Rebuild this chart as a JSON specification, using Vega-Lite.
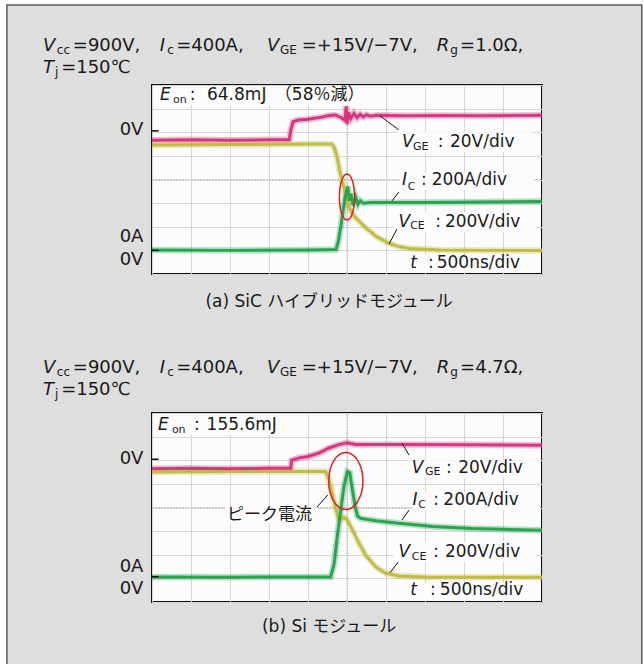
{
  "$schema": "https://vega.github.io/schema/vega-lite/v6.json",
  "autosize": {"type": "none"},
  "padding": {"left": 152, "top": 85, "right": 491, "bottom": 579},
  "background": "#dddedd",
  "spacing": 139,
  "bounds": "flush",
  "config": {
    "font": "DejaVu Sans, Noto Sans CJK JP",
    "view": {"stroke": "#111111", "strokeWidth": 2, "fill": "#fcfcfc"}
  },
  "datasets": {
    "tracesA": [
      {"series": "VGE", "x": 0, "y": 5.66}, {"series": "VGE", "x": 1, "y": 5.68}, {"series": "VGE", "x": 2, "y": 5.66}, {"series": "VGE", "x": 3, "y": 5.68}, {"series": "VGE", "x": 3.52, "y": 5.68}, {"series": "VGE", "x": 3.56, "y": 6.1}, {"series": "VGE", "x": 3.62, "y": 6.45}, {"series": "VGE", "x": 3.75, "y": 6.52}, {"series": "VGE", "x": 4.0, "y": 6.55}, {"series": "VGE", "x": 4.3, "y": 6.62}, {"series": "VGE", "x": 4.5, "y": 6.7}, {"series": "VGE", "x": 4.7, "y": 6.73}, {"series": "VGE", "x": 4.85, "y": 6.62}, {"series": "VGE", "x": 4.95, "y": 6.5}, {"series": "VGE", "x": 4.98, "y": 7.1}, {"series": "VGE", "x": 5.0, "y": 6.35}, {"series": "VGE", "x": 5.04, "y": 6.85}, {"series": "VGE", "x": 5.1, "y": 6.58}, {"series": "VGE", "x": 5.18, "y": 6.8}, {"series": "VGE", "x": 5.26, "y": 6.62}, {"series": "VGE", "x": 5.34, "y": 6.76}, {"series": "VGE", "x": 5.42, "y": 6.65}, {"series": "VGE", "x": 5.5, "y": 6.74}, {"series": "VGE", "x": 5.6, "y": 6.68}, {"series": "VGE", "x": 5.75, "y": 6.72}, {"series": "VGE", "x": 6.5, "y": 6.7}, {"series": "VGE", "x": 7.5, "y": 6.71}, {"series": "VGE", "x": 8.5, "y": 6.7}, {"series": "VGE", "x": 10, "y": 6.72},
      {"series": "VCE", "x": 0, "y": 5.46}, {"series": "VCE", "x": 2, "y": 5.48}, {"series": "VCE", "x": 4, "y": 5.5}, {"series": "VCE", "x": 4.6, "y": 5.5}, {"series": "VCE", "x": 4.66, "y": 5.4}, {"series": "VCE", "x": 4.74, "y": 5.0}, {"series": "VCE", "x": 4.82, "y": 4.3}, {"series": "VCE", "x": 4.9, "y": 3.8}, {"series": "VCE", "x": 4.98, "y": 3.25}, {"series": "VCE", "x": 5.05, "y": 2.85}, {"series": "VCE", "x": 5.12, "y": 2.6}, {"series": "VCE", "x": 5.2, "y": 2.42}, {"series": "VCE", "x": 5.33, "y": 2.2}, {"series": "VCE", "x": 5.5, "y": 1.93}, {"series": "VCE", "x": 5.76, "y": 1.58}, {"series": "VCE", "x": 6.1, "y": 1.28}, {"series": "VCE", "x": 6.36, "y": 1.15}, {"series": "VCE", "x": 6.6, "y": 1.08}, {"series": "VCE", "x": 7.4, "y": 1.02}, {"series": "VCE", "x": 8.5, "y": 1.0}, {"series": "VCE", "x": 10, "y": 1.0},
      {"series": "IC", "x": 0, "y": 1.02}, {"series": "IC", "x": 2, "y": 1.0}, {"series": "IC", "x": 4, "y": 1.02}, {"series": "IC", "x": 4.72, "y": 1.04}, {"series": "IC", "x": 4.78, "y": 1.4}, {"series": "IC", "x": 4.84, "y": 2.0}, {"series": "IC", "x": 4.9, "y": 2.7}, {"series": "IC", "x": 4.96, "y": 3.3}, {"series": "IC", "x": 5.02, "y": 3.7}, {"series": "IC", "x": 5.06, "y": 3.1}, {"series": "IC", "x": 5.1, "y": 3.4}, {"series": "IC", "x": 5.16, "y": 2.9}, {"series": "IC", "x": 5.22, "y": 3.25}, {"series": "IC", "x": 5.28, "y": 2.95}, {"series": "IC", "x": 5.34, "y": 3.1}, {"series": "IC", "x": 5.42, "y": 3.0}, {"series": "IC", "x": 5.6, "y": 3.03}, {"series": "IC", "x": 7, "y": 3.03}, {"series": "IC", "x": 8.5, "y": 3.05}, {"series": "IC", "x": 10, "y": 3.07}
    ],
    "tracesB": [
      {"series": "VGE", "x": 0, "y": 5.64}, {"series": "VGE", "x": 1, "y": 5.66}, {"series": "VGE", "x": 2, "y": 5.64}, {"series": "VGE", "x": 3, "y": 5.66}, {"series": "VGE", "x": 3.56, "y": 5.66}, {"series": "VGE", "x": 3.58, "y": 6.0}, {"series": "VGE", "x": 3.7, "y": 6.06}, {"series": "VGE", "x": 3.77, "y": 6.1}, {"series": "VGE", "x": 4.0, "y": 6.16}, {"series": "VGE", "x": 4.28, "y": 6.3}, {"series": "VGE", "x": 4.54, "y": 6.52}, {"series": "VGE", "x": 4.79, "y": 6.66}, {"series": "VGE", "x": 5.0, "y": 6.74}, {"series": "VGE", "x": 5.22, "y": 6.67}, {"series": "VGE", "x": 6.33, "y": 6.67}, {"series": "VGE", "x": 8, "y": 6.66}, {"series": "VGE", "x": 10, "y": 6.64},
      {"series": "VCE", "x": 0, "y": 5.5}, {"series": "VCE", "x": 2, "y": 5.52}, {"series": "VCE", "x": 4, "y": 5.52}, {"series": "VCE", "x": 4.45, "y": 5.52}, {"series": "VCE", "x": 4.54, "y": 5.17}, {"series": "VCE", "x": 4.62, "y": 4.6}, {"series": "VCE", "x": 4.71, "y": 3.96}, {"series": "VCE", "x": 4.78, "y": 3.54}, {"series": "VCE", "x": 4.84, "y": 3.5}, {"series": "VCE", "x": 4.92, "y": 3.58}, {"series": "VCE", "x": 5.01, "y": 3.47}, {"series": "VCE", "x": 5.14, "y": 3.04}, {"series": "VCE", "x": 5.31, "y": 2.48}, {"series": "VCE", "x": 5.48, "y": 1.98}, {"series": "VCE", "x": 5.74, "y": 1.48}, {"series": "VCE", "x": 5.99, "y": 1.22}, {"series": "VCE", "x": 6.33, "y": 1.1}, {"series": "VCE", "x": 7, "y": 1.06}, {"series": "VCE", "x": 8.5, "y": 1.05}, {"series": "VCE", "x": 10, "y": 1.05},
      {"series": "IC", "x": 0, "y": 1.06}, {"series": "IC", "x": 2, "y": 1.05}, {"series": "IC", "x": 4, "y": 1.06}, {"series": "IC", "x": 4.58, "y": 1.06}, {"series": "IC", "x": 4.67, "y": 1.62}, {"series": "IC", "x": 4.75, "y": 2.76}, {"series": "IC", "x": 4.84, "y": 3.89}, {"series": "IC", "x": 4.92, "y": 4.88}, {"series": "IC", "x": 5.01, "y": 5.52}, {"series": "IC", "x": 5.07, "y": 5.47}, {"series": "IC", "x": 5.14, "y": 4.74}, {"series": "IC", "x": 5.21, "y": 4.03}, {"series": "IC", "x": 5.27, "y": 3.64}, {"series": "IC", "x": 5.35, "y": 3.54}, {"series": "IC", "x": 5.74, "y": 3.44}, {"series": "IC", "x": 6.33, "y": 3.33}, {"series": "IC", "x": 7.2, "y": 3.2}, {"series": "IC", "x": 8.2, "y": 3.11}, {"series": "IC", "x": 10, "y": 3.04}
    ],
    "labelsA": [
      {"role": "tsym", "text": "V", "x": -2.795, "y": 9.65},
      {"role": "tsub", "text": "cc", "x": -2.44, "y": 9.47},
      {"role": "title", "text": "=900V,", "x": -2.03, "y": 9.65},
      {"role": "tsym", "text": "I", "x": 0.2, "y": 9.65},
      {"role": "tsub", "text": "c", "x": 0.39, "y": 9.47},
      {"role": "title", "text": "=400A,", "x": 0.62, "y": 9.65},
      {"role": "tsym", "text": "V", "x": 2.95, "y": 9.65},
      {"role": "tsub", "text": "GE", "x": 3.28, "y": 9.47},
      {"role": "title", "text": "=+15V/−7V,", "x": 3.84, "y": 9.65},
      {"role": "tsym", "text": "R", "x": 7.3, "y": 9.65},
      {"role": "tsub", "text": "g", "x": 7.65, "y": 9.47},
      {"role": "title", "text": "=1.0Ω,", "x": 7.9, "y": 9.65},
      {"role": "tsym", "text": "T", "x": -2.795, "y": 8.72},
      {"role": "tsub", "text": "j", "x": -2.487, "y": 8.54},
      {"role": "title", "text": "=150℃", "x": -2.33, "y": 8.72},
      {"role": "sym", "text": "E", "x": 0.205, "y": 7.58},
      {"role": "sub", "text": "on", "x": 0.54, "y": 7.37},
      {"role": "val", "text": ":", "x": 0.97, "y": 7.58},
      {"role": "val", "text": "64.8mJ", "x": 1.41, "y": 7.58},
      {"role": "val", "text": "（58％減）", "x": 3.15, "y": 7.58},
      {"role": "sym", "text": "V", "x": 6.41, "y": 5.59},
      {"role": "sub", "text": "GE", "x": 6.69, "y": 5.38},
      {"role": "val", "text": ":", "x": 7.33, "y": 5.59},
      {"role": "val", "text": "20V/div", "x": 7.64, "y": 5.59},
      {"role": "sym", "text": "I", "x": 6.41, "y": 3.98},
      {"role": "sub", "text": "C", "x": 6.56, "y": 3.68},
      {"role": "val", "text": ":", "x": 6.9, "y": 3.98},
      {"role": "val", "text": "200A/div", "x": 7.17, "y": 3.98},
      {"role": "sym", "text": "V", "x": 6.32, "y": 2.2},
      {"role": "sub", "text": "CE", "x": 6.62, "y": 2.03},
      {"role": "val", "text": ":", "x": 7.26, "y": 2.2},
      {"role": "val", "text": "200V/div", "x": 7.51, "y": 2.2},
      {"role": "sym", "text": "t", "x": 6.62, "y": 0.47},
      {"role": "val", "text": ":", "x": 7.08, "y": 0.47},
      {"role": "val", "text": "500ns/div", "x": 7.3, "y": 0.47},
      {"role": "ylab", "text": "0V", "x": -0.22, "y": 6.1},
      {"role": "ylab", "text": "0A", "x": -0.22, "y": 1.57},
      {"role": "ylab", "text": "0V", "x": -0.22, "y": 0.59},
      {"role": "cap", "text": "(a)  SiC ハイブリッドモジュール", "x": 4.54, "y": -1.19}
    ],
    "labelsB": [
      {"role": "tsym", "text": "V", "x": -2.795, "y": 9.9},
      {"role": "tsub", "text": "cc", "x": -2.44, "y": 9.72},
      {"role": "title", "text": "=900V,", "x": -2.03, "y": 9.9},
      {"role": "tsym", "text": "I", "x": 0.2, "y": 9.9},
      {"role": "tsub", "text": "c", "x": 0.39, "y": 9.72},
      {"role": "title", "text": "=400A,", "x": 0.62, "y": 9.9},
      {"role": "tsym", "text": "V", "x": 2.95, "y": 9.9},
      {"role": "tsub", "text": "GE", "x": 3.28, "y": 9.72},
      {"role": "title", "text": "=+15V/−7V,", "x": 3.84, "y": 9.9},
      {"role": "tsym", "text": "R", "x": 7.3, "y": 9.9},
      {"role": "tsub", "text": "g", "x": 7.65, "y": 9.72},
      {"role": "title", "text": "=4.7Ω,", "x": 7.9, "y": 9.9},
      {"role": "tsym", "text": "T", "x": -2.795, "y": 8.97},
      {"role": "tsub", "text": "j", "x": -2.487, "y": 8.79},
      {"role": "title", "text": "=150℃", "x": -2.33, "y": 8.97},
      {"role": "sym", "text": "E", "x": 0.154, "y": 7.49},
      {"role": "sub", "text": "on", "x": 0.51, "y": 7.28},
      {"role": "val", "text": ":", "x": 1.08, "y": 7.49},
      {"role": "val", "text": "155.6mJ", "x": 1.4, "y": 7.49},
      {"role": "sym", "text": "V", "x": 6.66, "y": 5.67},
      {"role": "sub", "text": "GE", "x": 7.0, "y": 5.5},
      {"role": "val", "text": ":", "x": 7.54, "y": 5.67},
      {"role": "val", "text": "20V/div", "x": 7.85, "y": 5.67},
      {"role": "sym", "text": "I", "x": 6.68, "y": 4.32},
      {"role": "sub", "text": "C", "x": 6.83, "y": 4.11},
      {"role": "val", "text": ":", "x": 7.21, "y": 4.32},
      {"role": "val", "text": "200A/div", "x": 7.47, "y": 4.32},
      {"role": "sym", "text": "V", "x": 6.32, "y": 2.12},
      {"role": "sub", "text": "CE", "x": 6.66, "y": 1.9},
      {"role": "val", "text": ":", "x": 7.21, "y": 2.12},
      {"role": "val", "text": "200V/div", "x": 7.51, "y": 2.12},
      {"role": "sym", "text": "t", "x": 6.62, "y": 0.51},
      {"role": "val", "text": ":", "x": 7.13, "y": 0.51},
      {"role": "val", "text": "500ns/div", "x": 7.38, "y": 0.51},
      {"role": "val", "text": "ピーク電流", "x": 1.92, "y": 3.68},
      {"role": "ylab", "text": "0V", "x": -0.22, "y": 6.05},
      {"role": "ylab", "text": "0A", "x": -0.22, "y": 1.48},
      {"role": "ylab", "text": "0V", "x": -0.22, "y": 0.55},
      {"role": "cap", "text": "(b)  Si モジュール", "x": 4.54, "y": -1.06}
    ],
    "boxesA": [
      {"x": 0.05, "x2": 5.85, "y": 7.95, "y2": 7.15},
      {"x": 6.3, "x2": 9.75, "y": 6.0, "y2": 5.16},
      {"x": 6.35, "x2": 9.8, "y": 4.27, "y2": 3.55},
      {"x": 6.2, "x2": 9.9, "y": 2.62, "y2": 1.78},
      {"x": 6.5, "x2": 9.95, "y": 0.8, "y2": 0.08}
    ],
    "boxesB": [
      {"x": 0.05, "x2": 3.6, "y": 7.95, "y2": 7.07},
      {"x": 6.56, "x2": 9.95, "y": 6.0, "y2": 5.25},
      {"x": 6.67, "x2": 9.95, "y": 4.66, "y2": 3.9},
      {"x": 6.2, "x2": 9.9, "y": 2.54, "y2": 1.69},
      {"x": 6.5, "x2": 9.95, "y": 0.8, "y2": 0.08},
      {"x": 1.87, "x2": 4.23, "y": 4.02, "y2": 3.34}
    ],
    "leadersA": [
      {"x": 5.85, "y": 6.69, "x2": 6.33, "y2": 6.1},
      {"x": 6.15, "y": 3.09, "x2": 6.33, "y2": 3.47},
      {"x": 6.08, "y": 1.27, "x2": 6.28, "y2": 1.9}
    ],
    "leadersB": [
      {"x": 6.41, "y": 6.73, "x2": 6.59, "y2": 6.22},
      {"x": 6.41, "y": 3.47, "x2": 6.59, "y2": 3.89},
      {"x": 6.1, "y": 1.23, "x2": 6.31, "y2": 1.69},
      {"x": 4.23, "y": 4.02, "x2": 4.51, "y2": 4.53}
    ],
    "ticksA": [
      {"x": 0, "y": 6.06, "x2": 0.17, "y2": 6.06},
      {"x": 0, "y": 1.0, "x2": 0.17, "y2": 1.0}
    ],
    "ticksB": [
      {"x": 0, "y": 6.04, "x2": 0.17, "y2": 6.04},
      {"x": 0, "y": 1.07, "x2": 0.17, "y2": 1.07}
    ],
    "center": [
      {"x": 5, "y": 0, "x2": 5, "y2": 8},
      {"x": 0, "y": 4, "x2": 10, "y2": 4}
    ],
    "margin": [
      {"x": -4.1, "x2": -3.72, "y": 12, "y2": -17.5},
      {"x": -4.1, "x2": 12.8, "y": 12, "y2": 11.39},
      {"x": 12.56, "x2": 12.8, "y": 12, "y2": -17.5}
    ],
    "frame": [
      {"x": -3.72, "y": 11.39, "x2": 12.56, "y2": -17.5}
    ],
    "ellipseA": [{"x": 5.0, "y": 3.26}],
    "ellipseB": [{"x": 4.97, "y": 5.12}]
  },
  "vconcat": [
    {
      "width": 390,
      "height": 189,
      "encoding": {
        "x": {"field": "x", "type": "quantitative", "scale": {"domain": [0, 10], "nice": false, "zero": false}, "axis": {"values": [0, 1, 2, 3, 4, 5, 6, 7, 8, 9, 10], "grid": true, "gridColor": "#d6d6d6", "labels": false, "ticks": false, "domain": false, "title": null}},
        "y": {"field": "y", "type": "quantitative", "scale": {"domain": [0, 8], "nice": false, "zero": false}, "axis": {"values": [0, 1, 2, 3, 4, 5, 6, 7, 8], "grid": true, "gridColor": "#d6d6d6", "labels": false, "ticks": false, "domain": false, "title": null}}
      },
      "layer": [
        {"data": {"name": "margin"}, "mark": {"type": "rect", "fill": "#ffffff", "strokeWidth": 0}, "encoding": {"x2": {"field": "x2"}, "y2": {"field": "y2"}}},
        {"data": {"name": "frame"}, "mark": {"type": "rect", "fill": null, "fillOpacity": 0, "stroke": "#5a5a5a", "strokeWidth": 1.5}, "encoding": {"x2": {"field": "x2"}, "y2": {"field": "y2"}}},
        {"data": {"name": "center"}, "mark": {"type": "rule", "color": "#c2c2c2", "strokeWidth": 1, "strokeDash": [2, 1]}, "encoding": {"x2": {"field": "x2"}, "y2": {"field": "y2"}}},
        {"data": {"name": "boxesA"}, "mark": {"type": "rect", "fill": "#fcfcfc", "strokeWidth": 0}, "encoding": {"x2": {"field": "x2"}, "y2": {"field": "y2"}}},
        {"data": {"name": "tracesA"}, "mark": {"type": "line", "strokeWidth": 6.5, "opacity": 0.3}, "encoding": {"color": {"field": "series", "type": "nominal", "scale": {"domain": ["VCE", "IC", "VGE"], "range": ["#bdb83a", "#1e9e46", "#d62a78"]}, "legend": null}}},
        {"data": {"name": "tracesA"}, "mark": {"type": "line", "strokeWidth": 3, "opacity": 0.92}, "encoding": {"color": {"field": "series", "type": "nominal", "scale": {"domain": ["VCE", "IC", "VGE"], "range": ["#bdb83a", "#1e9e46", "#d62a78"]}, "legend": null}}},
        {"data": {"name": "ellipseA"}, "mark": {"type": "point", "shape": "M0,-1A0.33,1 0 1,1 0,1A0.33,1 0 1,1 0,-1Z", "size": 2116, "filled": false, "stroke": "#e01e1e", "strokeWidth": 1.5, "opacity": 1}},
        {"data": {"name": "leadersA"}, "mark": {"type": "rule", "color": "#111111", "strokeWidth": 1}, "encoding": {"x2": {"field": "x2"}, "y2": {"field": "y2"}}},
        {"data": {"name": "ticksA"}, "mark": {"type": "rule", "color": "#111111", "strokeWidth": 1.5}, "encoding": {"x2": {"field": "x2"}, "y2": {"field": "y2"}}},
        {"data": {"name": "labelsA"}, "transform": [{"filter": "datum.role === 'tsym'"}], "mark": {"type": "text", "align": "left", "baseline": "middle", "fontSize": 18, "fontStyle": "italic", "color": "#1a1a1a"}, "encoding": {"text": {"field": "text"}}},
        {"data": {"name": "labelsA"}, "transform": [{"filter": "datum.role === 'tsub'"}], "mark": {"type": "text", "align": "left", "baseline": "middle", "fontSize": 12, "color": "#1a1a1a"}, "encoding": {"text": {"field": "text"}}},
        {"data": {"name": "labelsA"}, "transform": [{"filter": "datum.role === 'title'"}], "mark": {"type": "text", "align": "left", "baseline": "middle", "fontSize": 18, "color": "#1a1a1a"}, "encoding": {"text": {"field": "text"}}},
        {"data": {"name": "labelsA"}, "transform": [{"filter": "datum.role === 'sym'"}], "mark": {"type": "text", "align": "left", "baseline": "middle", "fontSize": 17, "fontStyle": "italic", "color": "#1a1a1a"}, "encoding": {"text": {"field": "text"}}},
        {"data": {"name": "labelsA"}, "transform": [{"filter": "datum.role === 'sub'"}], "mark": {"type": "text", "align": "left", "baseline": "middle", "fontSize": 11, "color": "#1a1a1a"}, "encoding": {"text": {"field": "text"}}},
        {"data": {"name": "labelsA"}, "transform": [{"filter": "datum.role === 'val'"}], "mark": {"type": "text", "align": "left", "baseline": "middle", "fontSize": 17, "color": "#1a1a1a"}, "encoding": {"text": {"field": "text"}}},
        {"data": {"name": "labelsA"}, "transform": [{"filter": "datum.role === 'ylab'"}], "mark": {"type": "text", "align": "right", "baseline": "middle", "fontSize": 18, "color": "#1a1a1a"}, "encoding": {"text": {"field": "text"}}},
        {"data": {"name": "labelsA"}, "transform": [{"filter": "datum.role === 'cap'"}], "mark": {"type": "text", "align": "center", "baseline": "middle", "fontSize": 17, "color": "#1a1a1a"}, "encoding": {"text": {"field": "text"}}}
      ]
    },
    {
      "width": 390,
      "height": 189,
      "encoding": {
        "x": {"field": "x", "type": "quantitative", "scale": {"domain": [0, 10], "nice": false, "zero": false}, "axis": {"values": [0, 1, 2, 3, 4, 5, 6, 7, 8, 9, 10], "grid": true, "gridColor": "#d6d6d6", "labels": false, "ticks": false, "domain": false, "title": null}},
        "y": {"field": "y", "type": "quantitative", "scale": {"domain": [0, 8], "nice": false, "zero": false}, "axis": {"values": [0, 1, 2, 3, 4, 5, 6, 7, 8], "grid": true, "gridColor": "#d6d6d6", "labels": false, "ticks": false, "domain": false, "title": null}}
      },
      "layer": [
        {"data": {"name": "center"}, "mark": {"type": "rule", "color": "#c2c2c2", "strokeWidth": 1, "strokeDash": [2, 1]}, "encoding": {"x2": {"field": "x2"}, "y2": {"field": "y2"}}},
        {"data": {"name": "boxesB"}, "mark": {"type": "rect", "fill": "#fcfcfc", "strokeWidth": 0}, "encoding": {"x2": {"field": "x2"}, "y2": {"field": "y2"}}},
        {"data": {"name": "tracesB"}, "mark": {"type": "line", "strokeWidth": 6.5, "opacity": 0.3}, "encoding": {"color": {"field": "series", "type": "nominal", "scale": {"domain": ["VCE", "IC", "VGE"], "range": ["#bdb83a", "#1e9e46", "#d62a78"]}, "legend": null}}},
        {"data": {"name": "tracesB"}, "mark": {"type": "line", "strokeWidth": 3, "opacity": 0.92}, "encoding": {"color": {"field": "series", "type": "nominal", "scale": {"domain": ["VCE", "IC", "VGE"], "range": ["#bdb83a", "#1e9e46", "#d62a78"]}, "legend": null}}},
        {"data": {"name": "ellipseB"}, "mark": {"type": "point", "shape": "M0,-1A0.6,1 0 1,1 0,1A0.6,1 0 1,1 0,-1Z", "size": 3249, "filled": false, "stroke": "#e01e1e", "strokeWidth": 1.5, "opacity": 1}},
        {"data": {"name": "leadersB"}, "mark": {"type": "rule", "color": "#111111", "strokeWidth": 1}, "encoding": {"x2": {"field": "x2"}, "y2": {"field": "y2"}}},
        {"data": {"name": "ticksB"}, "mark": {"type": "rule", "color": "#111111", "strokeWidth": 1.5}, "encoding": {"x2": {"field": "x2"}, "y2": {"field": "y2"}}},
        {"data": {"name": "labelsB"}, "transform": [{"filter": "datum.role === 'tsym'"}], "mark": {"type": "text", "align": "left", "baseline": "middle", "fontSize": 18, "fontStyle": "italic", "color": "#1a1a1a"}, "encoding": {"text": {"field": "text"}}},
        {"data": {"name": "labelsB"}, "transform": [{"filter": "datum.role === 'tsub'"}], "mark": {"type": "text", "align": "left", "baseline": "middle", "fontSize": 12, "color": "#1a1a1a"}, "encoding": {"text": {"field": "text"}}},
        {"data": {"name": "labelsB"}, "transform": [{"filter": "datum.role === 'title'"}], "mark": {"type": "text", "align": "left", "baseline": "middle", "fontSize": 18, "color": "#1a1a1a"}, "encoding": {"text": {"field": "text"}}},
        {"data": {"name": "labelsB"}, "transform": [{"filter": "datum.role === 'sym'"}], "mark": {"type": "text", "align": "left", "baseline": "middle", "fontSize": 17, "fontStyle": "italic", "color": "#1a1a1a"}, "encoding": {"text": {"field": "text"}}},
        {"data": {"name": "labelsB"}, "transform": [{"filter": "datum.role === 'sub'"}], "mark": {"type": "text", "align": "left", "baseline": "middle", "fontSize": 11, "color": "#1a1a1a"}, "encoding": {"text": {"field": "text"}}},
        {"data": {"name": "labelsB"}, "transform": [{"filter": "datum.role === 'val'"}], "mark": {"type": "text", "align": "left", "baseline": "middle", "fontSize": 17, "color": "#1a1a1a"}, "encoding": {"text": {"field": "text"}}},
        {"data": {"name": "labelsB"}, "transform": [{"filter": "datum.role === 'ylab'"}], "mark": {"type": "text", "align": "right", "baseline": "middle", "fontSize": 18, "color": "#1a1a1a"}, "encoding": {"text": {"field": "text"}}},
        {"data": {"name": "labelsB"}, "transform": [{"filter": "datum.role === 'cap'"}], "mark": {"type": "text", "align": "center", "baseline": "middle", "fontSize": 17, "color": "#1a1a1a"}, "encoding": {"text": {"field": "text"}}}
      ]
    }
  ]
}
